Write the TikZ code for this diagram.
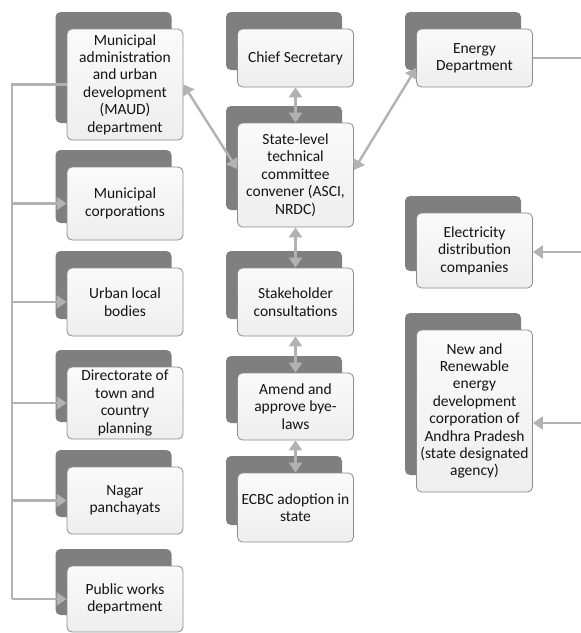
\documentclass[tikz,border=0pt]{standalone}
\usepackage{fontspec}
\setmainfont{Carlito}
\usepackage{xcolor}
\usepackage{tikz}
\usetikzlibrary{arrows.meta,shadows}

\definecolor{cardback}{HTML}{7F7F7F}
\definecolor{cardedge}{HTML}{8C8C8C}
\definecolor{cardtop}{HTML}{FAFAFA}
\definecolor{cardbottom}{HTML}{EEEEEE}
\definecolor{wiregray}{HTML}{B2B2B2}
\definecolor{inkgray}{HTML}{141414}

\begin{document}
\begin{tikzpicture}[
x=1pt, y=-1pt,
font=\fontsize{15.5}{17.4}\selectfont,
card/.style={draw=cardedge, line width=0.8pt, rounded corners=5pt, align=center, text=inkgray, inner sep=2pt, minimum width=116pt, top color=cardtop, bottom color=cardbottom, general shadow={fill=cardback, shadow xshift=-11.5pt, shadow yshift=17pt}},
wire/.style={draw=wiregray, line width=2.4pt},
tip/.style={-{Triangle[length=10pt, width=13pt]}},
twoway/.style={wire, {Triangle[length=10pt, width=13pt]}-{Triangle[length=10pt, width=13pt]}}
]
\useasboundingbox (0,0) rectangle (581,633);

% left column
\node[card, minimum height=111pt] (maud) at (125,84.5) {Municipal\\administration\\and urban\\development\\(MAUD)\\department};
\node[card, minimum height=73pt] (corp) at (125,203.5) {Municipal\\corporations};
\node[card, minimum height=68pt] (ulb) at (125,302) {Urban local\\bodies};
\node[card, minimum height=72pt] (dtcp) at (125,403) {Directorate of\\town and\\country\\planning};
\node[card, minimum height=67pt] (nagar) at (125,500.5) {Nagar\\panchayats};
\node[card, minimum height=66pt] (pwd) at (125,599) {Public works\\department};

% middle column
\node[card, minimum height=58pt] (cs) at (295.5,58) {Chief Secretary};
\node[card, minimum height=104pt] (stc) at (295.5,175) {State-level\\technical\\committee\\convener (ASCI,\\NRDC)};
\node[card, minimum height=68pt] (consult) at (295.5,302) {Stakeholder\\consultations};
\node[card, minimum height=67pt] (bylaws) at (295.5,406.5) {Amend and\\approve bye-\\laws};
\node[card, minimum height=69pt] (ecbc) at (295.5,507.5) {ECBC adoption in\\state};

% right column
\node[card, minimum height=58pt] (energy) at (474.5,58) {Energy\\Department};
\node[card, minimum height=75pt] (discom) at (474.5,250.5) {Electricity\\distribution\\companies};
\node[card, minimum height=162pt] (nredcap) at (474.5,411) {New and\\Renewable\\energy\\development\\corporation of\\Andhra Pradesh\\(state designated\\agency)};

\coordinate (bus) at (12,84.5);
\coordinate (energyout) at (581,57);
\coordinate (discomin) at (581,252);
\coordinate (nredcapin) at (581,423);

% left bus
\draw[wire] (maud.west) -- (maud.west -| bus) -- (pwd.west -| bus);
\foreach \n in {corp,ulb,dtcp,nagar,pwd}
  \draw[wire, tip] (\n.west -| bus) -- (\n.west);

% middle chain
\draw[twoway] (cs.south) -- (stc.north);
\draw[twoway] (stc.south) -- (consult.north);
\draw[twoway] (consult.south) -- (bylaws.north);
\draw[twoway] (bylaws.south) -- (ecbc.north);
\draw[twoway] (maud.east) -- ([yshift=6pt]stc.west);
\draw[twoway] ([yshift=-10pt]energy.west) -- ([yshift=5pt]stc.east);

% right side
\draw[wire] (energy.east) -- (energy.east -| energyout);
\draw[wire, tip] (discomin) -- (discom.east |- discomin);
\draw[wire, tip] (nredcapin) -- (nredcap.east |- nredcapin);
\end{tikzpicture}
\end{document}
